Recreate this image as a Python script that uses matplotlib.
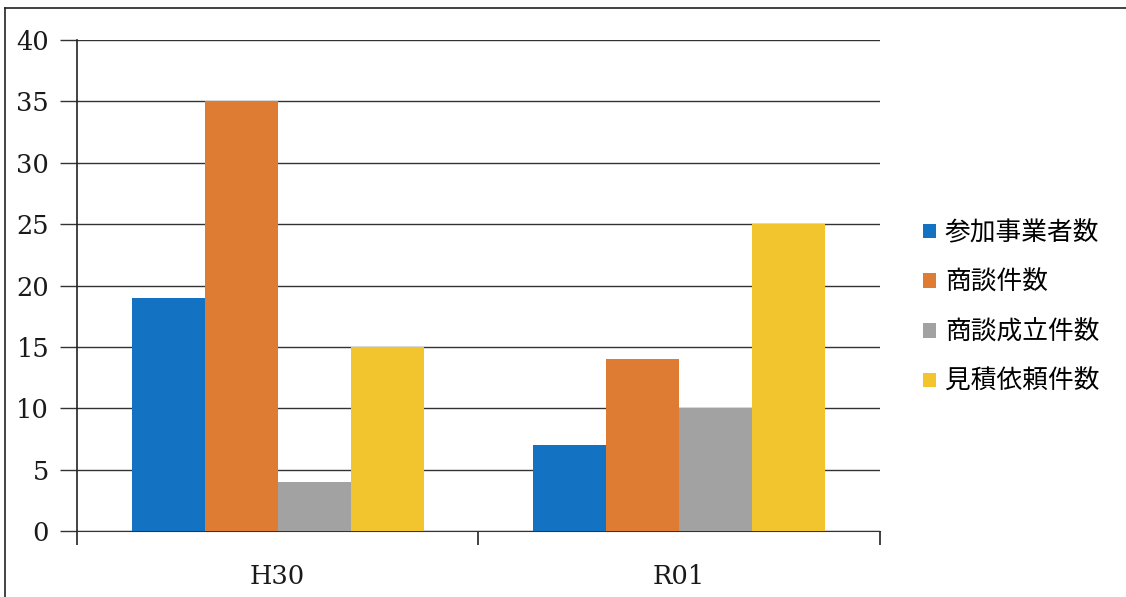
import matplotlib.pyplot as plt
import numpy as np
from matplotlib.lines import Line2D

# data
years = ['H30', 'R01']
sankasha = [19, 7]      # 参加事業者数
shodan = [35, 14]       # 商談件数
seiritsu = [4, 10]      # 商談成立件数
mitsumori = [15, 25]    # 見積依頼件数

series_names = ['参加事業者数', '商談件数', '商談成立件数', '見積依頼件数']
colors = ['#1372C2', '#DE7C34', '#A2A2A2', '#F2C42E']

plt.rcParams['font.family'] = ['DejaVu Serif', 'Noto Sans CJK JP']


def main():
    fig = plt.figure(figsize=(11.26, 5.97), dpi=100)
    ax = fig.add_axes([77/1126, 1-531/597, (880-77)/1126, (531-40)/597])

    x = np.arange(len(years))
    w = 0.182
    vals = [sankasha, shodan, seiritsu, mitsumori]
    for i, v in enumerate(vals):
        ax.bar(x + (i - 1.5) * w, v, w, color=colors[i], label=series_names[i], zorder=3)

    ax.set_xlim(-0.5, 1.5)
    ax.set_ylim(0, 40)
    ax.set_yticks(range(0, 41, 5))
    ax.yaxis.grid(True, color='#333333', linewidth=1.0, zorder=0)
    ax.tick_params(axis='y', length=12, width=1.0, color='#333333', labelsize=18.5,
                   pad=8, labelcolor='#1a1a1a')
    ax.tick_params(axis='x', length=0, labelsize=18.5, pad=24, labelcolor='#1a1a1a')
    ax.set_xticks(x)
    ax.set_xticklabels(years)
    # boundary ticks between categories
    ax.set_xticks([-0.5, 0.5, 1.5], minor=True)
    ax.tick_params(axis='x', which='minor', length=10, width=1.2, color='#222222')

    for s in ['top', 'right']:
        ax.spines[s].set_visible(False)
    ax.spines['left'].set_color('#222222')
    ax.spines['bottom'].set_color('#333333')
    ax.spines['left'].set_linewidth(1.2)

    ax.legend(loc='center left', bbox_to_anchor=(1.0375, 0.455), frameon=False,
              prop={'family': 'Noto Sans CJK JP', 'size': 18.5},
              borderpad=0, handlelength=0.5, handleheight=0.5, handletextpad=0.35,
              labelspacing=0.92)

    # scan frame
    fig.add_artist(Line2D([5/1126, 5/1126], [0, 1-8/597], color='#222222', lw=1.2))
    fig.add_artist(Line2D([5/1126, 1], [1-8/597, 1-8/597], color='#222222', lw=1.2))

    plt.savefig('out.png', dpi=100)


if __name__ == "__main__":
    main()
